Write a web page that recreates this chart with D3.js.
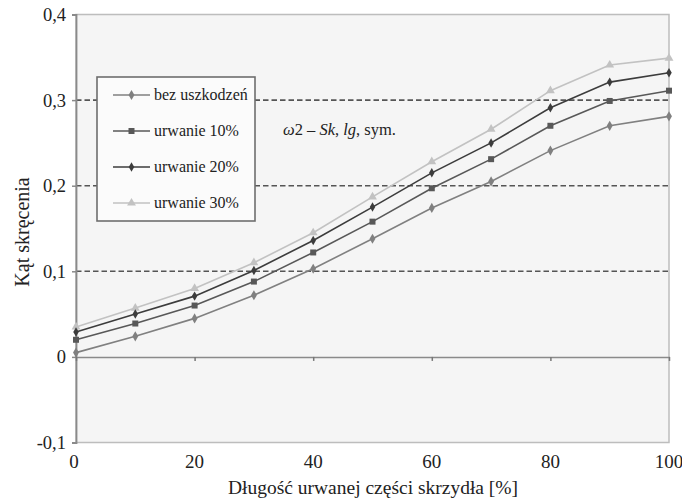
<!DOCTYPE html>
<html>
<head>
<meta charset="utf-8">
<script src="https://cdn.jsdelivr.net/npm/d3@7"></script>
<style>
  html, body { margin: 0; padding: 0; background: #fff; }
  svg { display: block; }
</style>
</head>
<body>
<svg id="chart" width="682" height="500"></svg>
<script>
// Percent of wing length torn off
const xValues = [0, 10, 20, 30, 40, 50, 60, 70, 80, 90, 100];

// Twist angle per damage case
const bezUszkodzen = [0.005, 0.024, 0.045, 0.072, 0.103, 0.138, 0.174, 0.205, 0.241, 0.270, 0.281];
const urwanie10 = [0.020, 0.039, 0.060, 0.088, 0.122, 0.158, 0.197, 0.231, 0.270, 0.299, 0.311];
const urwanie20 = [0.029, 0.050, 0.071, 0.101, 0.136, 0.175, 0.215, 0.250, 0.291, 0.321, 0.332];
const urwanie30 = [0.035, 0.057, 0.080, 0.110, 0.145, 0.187, 0.228, 0.266, 0.311, 0.341, 0.349];

const seriesNames = ["bez uszkodzeń", "urwanie 10%", "urwanie 20%", "urwanie 30%"];
const xTicks = [0, 20, 40, 60, 80, 100];
const yTicks = [-0.1, 0, 0.1, 0.2, 0.3, 0.4];
const gridValues = [0.1, 0.2, 0.3];

const series = [
  { name: seriesNames[0], values: bezUszkodzen, color: "#808080", marker: "diamond", size: 30 },
  { name: seriesNames[1], values: urwanie10, color: "#585858", marker: "square", size: 36 },
  { name: seriesNames[2], values: urwanie20, color: "#3c3c3c", marker: "diamond", size: 26 },
  { name: seriesNames[3], values: urwanie30, color: "#c2c2c2", marker: "triangle", size: 34 }
];

const FONT = "'Liberation Serif', 'Times New Roman', 'DejaVu Serif', serif";
const svg = d3.select("#chart").attr("font-family", FONT);
const plotLeft = 76, plotRight = 669, plotTop = 14.5, plotBottom = 442.5;

const x = d3.scaleLinear().domain([0, 100]).range([plotLeft, plotRight]);
const y = d3.scaleLinear().domain([-0.1, 0.4]).range([plotBottom, plotTop]);

// Polish decimal comma, plain hyphen for negatives
const fmt = v => (Math.abs(v) < 1e-9 ? "0" : v.toFixed(1).replace(".", ","));

// Plot area
svg.append("rect")
  .attr("x", plotLeft).attr("y", plotTop)
  .attr("width", plotRight - plotLeft).attr("height", plotBottom - plotTop)
  .attr("fill", "#f5f5f5")
  .attr("stroke", "#bdbdbd").attr("stroke-width", 1.5);

// Dashed horizontal gridlines
svg.append("g").selectAll("line").data(gridValues).join("line")
  .attr("x1", plotLeft).attr("x2", plotRight)
  .attr("y1", d => y(d)).attr("y2", d => y(d))
  .attr("stroke", "#555").attr("stroke-width", 1.6)
  .attr("stroke-dasharray", "5.5,3");

// Y axis
const yAxis = svg.append("g")
  .attr("transform", `translate(${plotLeft},0)`)
  .call(d3.axisLeft(y).tickValues(yTicks).tickFormat(fmt).tickSize(4).tickPadding(6));
yAxis.attr("font-family", FONT).attr("font-size", 18.5);
yAxis.select(".domain").attr("stroke", "#8a8a8a").attr("stroke-width", 1.8);
yAxis.selectAll(".tick line").attr("stroke", "#8a8a8a").attr("stroke-width", 1.5);
yAxis.selectAll(".tick text").attr("fill", "#222");

// X axis line crossing at zero, ticks pointing down
const xAxis = svg.append("g")
  .attr("transform", `translate(0,${y(0)})`)
  .call(d3.axisBottom(x).tickValues(xTicks).tickFormat("").tickSize(4).tickSizeOuter(0));
xAxis.select(".domain").attr("stroke", "#8a8a8a").attr("stroke-width", 1.5);
xAxis.selectAll(".tick line").attr("stroke", "#777").attr("stroke-width", 1.5);

// X tick labels below the plot
svg.append("g").selectAll("text").data(xTicks).join("text")
  .attr("x", d => x(d) - (d === 0 ? 2 : 0))
  .attr("y", 468)
  .attr("text-anchor", "middle")
  .attr("font-size", 19).attr("fill", "#222")
  .text(d => d);

// Axis titles
svg.append("text")
  .attr("x", 373).attr("y", 494)
  .attr("text-anchor", "middle")
  .attr("font-size", 19.5).attr("fill", "#222")
  .text("Długość urwanej części skrzydła [%]");

svg.append("text")
  .attr("transform", "translate(29,232) rotate(-90)")
  .attr("text-anchor", "middle")
  .attr("font-size", 20).attr("fill", "#222")
  .text("Kąt skręcenia");

// Marker shapes
const symbolFor = m => m === "square" ? d3.symbolSquare : m === "triangle" ? d3.symbolTriangle : d3.symbolDiamond;

const line = d3.line().x((d, i) => x(xValues[i])).y(d => y(d));

const lines = svg.append("g");
series.slice().reverse().forEach(s => {
  lines.append("path")
    .attr("d", line(s.values))
    .attr("fill", "none")
    .attr("stroke", s.color)
    .attr("stroke-width", 1.6);
  lines.append("g").selectAll("path").data(s.values).join("path")
    .attr("transform", (d, i) => `translate(${x(xValues[i])},${y(d)})`)
    .attr("d", d3.symbol().type(symbolFor(s.marker)).size(s.size))
    .attr("fill", s.color);
});

// Annotation
const note = svg.append("text")
  .attr("x", 283).attr("y", 135)
  .attr("font-size", 16.5).attr("fill", "#222");
note.append("tspan").attr("font-style", "italic").text("ω");
note.append("tspan").text("2 – ");
note.append("tspan").attr("font-style", "italic").text("Sk");
note.append("tspan").text(", ");
note.append("tspan").attr("font-style", "italic").text("lg");
note.append("tspan").text(", sym.");

// Legend
const legend = svg.append("g");
legend.append("rect")
  .attr("x", 97).attr("y", 77)
  .attr("width", 158).attr("height", 144)
  .attr("fill", "#fbfbfb")
  .attr("stroke", "#6e6e6e").attr("stroke-width", 1.6);

const rowY = [95, 131, 167, 203];
series.forEach((s, i) => {
  const g = legend.append("g").attr("transform", `translate(0,${rowY[i]})`);
  g.append("line")
    .attr("x1", 113).attr("x2", 150)
    .attr("stroke", s.color).attr("stroke-width", 1.6);
  g.append("path")
    .attr("transform", "translate(131.5,0)")
    .attr("d", d3.symbol().type(symbolFor(s.marker)).size(s.size))
    .attr("fill", s.color);
  g.append("text")
    .attr("x", 154).attr("y", 5)
    .attr("font-size", 16).attr("fill", "#222")
    .text(s.name);
});
</script>
</body>
</html>
